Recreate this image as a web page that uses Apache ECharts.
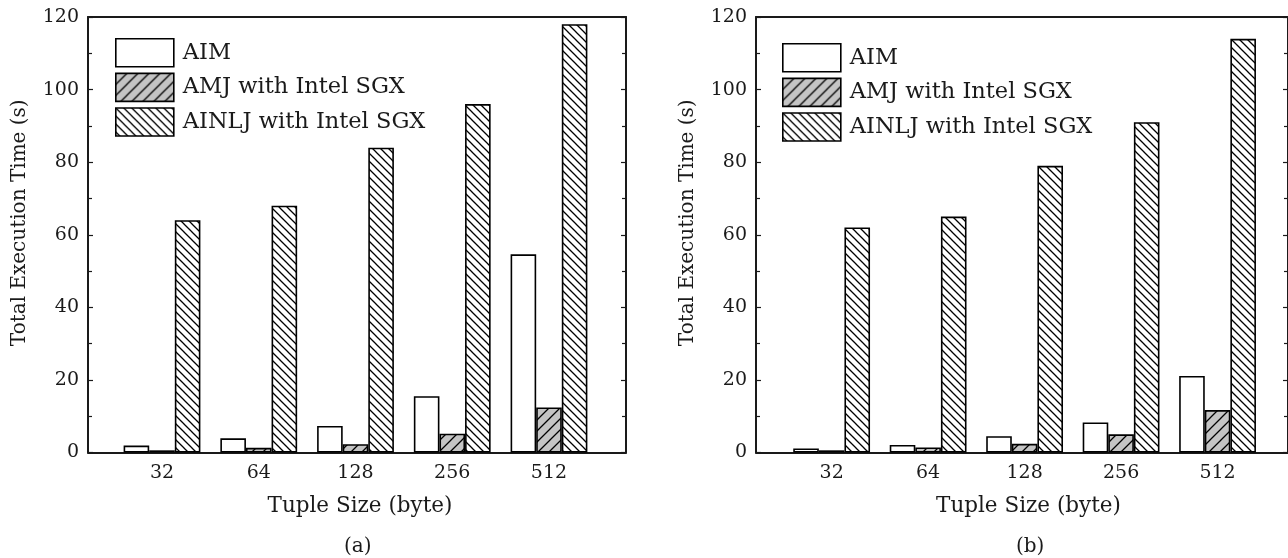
<!DOCTYPE html>
<html>
<head>
<meta charset="utf-8">
<script src="https://cdn.jsdelivr.net/npm/echarts@6/dist/echarts.min.js"></script>
<style>
html,body{margin:0;padding:0;background:#fff;}
#c{width:1288px;height:558px;}
</style>
</head>
<body>
<div id="c"></div>
<script>
// ---- data ----
const categories = ['32', '64', '128', '256', '512'];
const seriesNames = ['AIM', 'AMJ with Intel SGX', 'AINLJ with Intel SGX'];
// panel (a)
const aimA   = [1.9, 3.9, 7.3, 15.5, 54.6];
const amjA   = [0.6, 1.3, 2.3, 5.2, 12.4];
const ainljA = [64, 68, 84, 96, 118];
// panel (b)
const aimB   = [1.1, 2.1, 4.5, 8.3, 21.1];
const amjB   = [0.6, 1.4, 2.4, 5.0, 11.7];
const ainljB = [62, 65, 79, 91, 114];
const panelLabels = ['(a)', '(b)'];
const xName = 'Tuple Size (byte)';
const yName = 'Total Execution Time (s)';

const FONT = 'DejaVu Serif';
const INK = '#1a1a1a';

function hatch(dir, period, bg) {
  const c = document.createElement('canvas');
  c.width = c.height = period;
  const ctx = c.getContext('2d');
  ctx.fillStyle = bg;
  ctx.fillRect(0, 0, period, period);
  ctx.strokeStyle = '#000';
  ctx.lineWidth = 1.3;
  ctx.beginPath();
  const p = period;
  if (dir === '/') {
    ctx.moveTo(-2, p + 2); ctx.lineTo(p + 2, -2);
    ctx.moveTo(-2, 2); ctx.lineTo(2, -2);
    ctx.moveTo(p - 2, p + 2); ctx.lineTo(p + 2, p - 2);
  } else {
    ctx.moveTo(-2, -2); ctx.lineTo(p + 2, p + 2);
    ctx.moveTo(p - 2, -2); ctx.lineTo(p + 2, 2);
    ctx.moveTo(-2, p - 2); ctx.lineTo(2, p + 2);
  }
  ctx.stroke();
  return c;
}

const styles = [
  { color: '#ffffff' },
  { color: { image: hatch('/', 11, '#c4c4c4'), repeat: 'repeat' } },
  { color: { image: hatch('\\', 8, '#ffffff'), repeat: 'repeat' } }
];

const grids = [
  { left: 88, top: 17, width: 538, height: 435.5, xmin: 0.235, xmax: 5.796, nameShift: 6 },
  { left: 756, top: 17, width: 535, height: 435.5, xmin: 0.216, xmax: 5.73, nameShift: 13 }
];

const xAxes = [], yAxes = [], series = [];
grids.forEach((g, gi) => {
  xAxes.push({
    type: 'value', gridIndex: gi, min: g.xmin, max: g.xmax,
    position: 'bottom',
    axisLine: { show: true, onZero: false, lineStyle: { color: INK, width: 2 } },
    axisTick: { show: false },
    splitLine: { show: false },
    axisLabel: {
      customValues: [1, 2, 3, 4, 5],
      formatter: v => categories[Math.round(v) - 1],
      fontFamily: FONT, fontSize: 19, color: INK, margin: 11
    },
    name: xName, nameLocation: 'middle', nameGap: 43,
    nameTextStyle: { fontFamily: FONT, fontSize: 21.5, color: INK, padding: [0, 0, 0, g.nameShift] }
  });
  xAxes.push({
    type: 'value', gridIndex: gi, min: g.xmin, max: g.xmax,
    position: 'top',
    axisLine: { show: true, onZero: false, lineStyle: { color: INK, width: 2 } },
    axisTick: { show: false }, axisLabel: { show: false }, splitLine: { show: false }
  });
  yAxes.push({
    type: 'value', gridIndex: gi, min: 0, max: 120, interval: 20,
    position: 'left',
    axisLine: { show: true, lineStyle: { color: INK, width: 2 } },
    axisTick: { show: true, inside: true, length: 5, lineStyle: { color: INK, width: 1.2 } },
    minorTick: { show: true, splitNumber: 2, length: 4, lineStyle: { color: INK, width: 1.2 } },
    splitLine: { show: false },
    axisLabel: { fontFamily: FONT, fontSize: 19, color: INK, margin: 9 },
    name: yName, nameLocation: 'middle', nameGap: 58,
    nameTextStyle: { fontFamily: FONT, fontSize: 20, color: INK, padding: [0, 0, 0, 24] }
  });
  yAxes.push({
    type: 'value', gridIndex: gi, min: 0, max: 120, interval: 20,
    position: 'right',
    axisLine: { show: true, lineStyle: { color: INK, width: 2 } },
    axisTick: { show: true, inside: true, length: 5, lineStyle: { color: INK, width: 1.2 } },
    minorTick: { show: true, splitNumber: 2, length: 4, lineStyle: { color: INK, width: 1.2 } },
    splitLine: { show: false },
    axisLabel: { show: false }
  });
  const sets = gi === 0 ? [aimA, amjA, ainljA] : [aimB, amjB, ainljB];
  sets.forEach((arr, si) => {
    series.push({
      type: 'bar', name: seriesNames[si],
      xAxisIndex: gi * 2, yAxisIndex: gi * 2,
      barWidth: 25.6, barGap: '0%',
      itemStyle: { color: styles[si].color, borderColor: '#000', borderWidth: 1.6 },
      emphasis: { disabled: true },
      data: arr.map((v, i) => [i + 1, v])
    });
  });
});

const legendCommon = {
  orient: 'vertical', icon: 'rect', itemWidth: 58, itemHeight: 28, itemGap: 5,
  textStyle: { fontFamily: FONT, fontSize: 22.5, color: INK, padding: [0, 0, 0, 4] },
  itemStyle: { borderColor: '#000', borderWidth: 1.6 },
  data: seriesNames, selectedMode: false
};

const option = {
  animation: false,
  backgroundColor: '#fff',
  grid: grids.map(g => ({ left: g.left, top: g.top, width: g.width, height: g.height })),
  xAxis: xAxes,
  yAxis: yAxes,
  legend: [
    Object.assign({}, legendCommon, { left: 110, top: 33 }),
    Object.assign({}, legendCommon, { left: 777, top: 38 })
  ],
  graphic: [
    { type: 'text', left: 358 - 14, top: 537, style: { text: panelLabels[0], font: '20px "DejaVu Serif"', fill: INK } },
    { type: 'text', left: 1030 - 14, top: 537, style: { text: panelLabels[1], font: '20px "DejaVu Serif"', fill: INK } }
  ],
  series: series
};

const chart = echarts.init(document.getElementById('c'), null, { renderer: 'canvas' });
chart.setOption(option);
</script>
</body>
</html>
